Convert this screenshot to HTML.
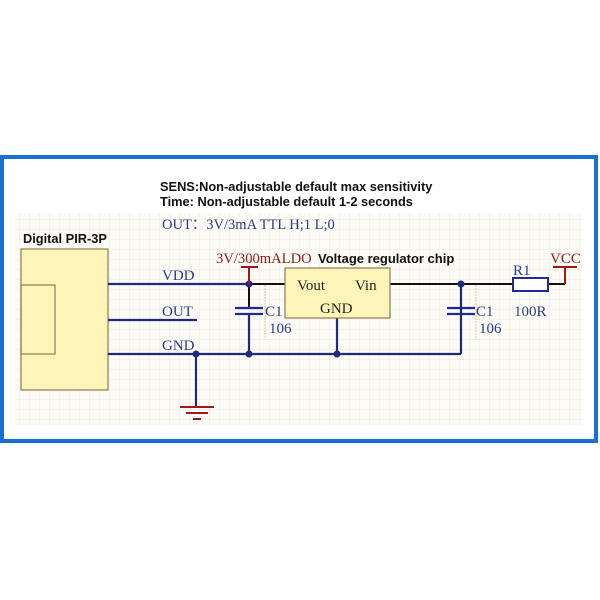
<!DOCTYPE html>
<html><head><meta charset="utf-8"><style>
html,body{margin:0;padding:0;background:#fff;width:600px;height:600px;overflow:hidden}
svg{display:block}
.s{font-family:"Liberation Serif",serif;fill:#2b3a8a;font-size:15px}
.b{font-family:"Liberation Sans",sans-serif;font-weight:bold;fill:#111;font-size:12.8px}
</style></head><body>
<svg width="600" height="600" viewBox="0 0 600 600">
<defs>
<pattern id="g" width="10" height="10" patternUnits="userSpaceOnUse">
<path d="M10 0V10H0" fill="none" stroke="#ece6da" stroke-width="0.8"/>
</pattern>
</defs>
<rect x="2" y="157" width="594" height="284" fill="#fff" stroke="#1a6fd0" stroke-width="4"/>
<rect x="15" y="213" width="567" height="212" fill="#fdfbf6"/>
<rect x="15" y="213" width="567" height="212" fill="url(#g)"/>
<text class="b" x="160" y="191">SENS:Non-adjustable default max sensitivity</text>
<text class="b" x="160" y="206">Time: Non-adjustable default 1-2 seconds</text>
<text class="s" x="162" y="229" style="font-size:14.5px">OUT：3V/3mA TTL H;1 L;0</text>
<text class="b" x="23" y="243">Digital PIR-3P</text>
<text class="s" x="216" y="263" style="fill:#8b1a1a;font-size:14.6px">3V/300mALDO</text>
<text class="b" x="318" y="263" style="font-size:13px">Voltage regulator chip</text>
<rect x="21" y="249" width="87" height="141" fill="#fdf5b8" stroke="#8a7d55" stroke-width="1.2"/>
<rect x="21" y="285" width="34" height="69" fill="none" stroke="#8a7d55" stroke-width="1.2"/>
<g stroke="#1f2a7a" stroke-width="2.2" fill="none">
<line x1="108" y1="284" x2="249" y2="284"/>
<line x1="108" y1="320" x2="197" y2="320"/>
<line x1="108" y1="354" x2="461" y2="354"/>
<line x1="196" y1="354" x2="196" y2="407"/>
<line x1="461" y1="284" x2="461" y2="354"/>
<line x1="337" y1="318" x2="337" y2="354"/>
<line x1="249" y1="314" x2="249" y2="354"/>
</g>
<g stroke="#111" stroke-width="2" fill="none">
<line x1="249" y1="284" x2="285" y2="284"/>
<line x1="249" y1="284" x2="249" y2="308"/>
<line x1="390" y1="284" x2="513" y2="284"/>
<line x1="548" y1="284" x2="565" y2="284"/>
</g>
<g stroke="#1f2a9a" stroke-width="2.2">
<line x1="235" y1="308" x2="263" y2="308"/><line x1="235" y1="314" x2="263" y2="314"/>
<line x1="447" y1="308" x2="475" y2="308"/><line x1="447" y1="314" x2="475" y2="314"/>
</g>
<line x1="265" y1="285" x2="265" y2="340" stroke="#d8c9a8" stroke-dasharray="2 1"/>
<line x1="476" y1="285" x2="476" y2="340" stroke="#d8c9a8" stroke-dasharray="2 1"/>
<g fill="#1f2a7a">
<circle cx="249" cy="284" r="3.5"/><circle cx="249" cy="354" r="3.5"/>
<circle cx="196" cy="354" r="3.5"/><circle cx="337" cy="354" r="3.5"/>
<circle cx="461" cy="284" r="3.5"/>
</g>
<g stroke="#a01818" stroke-width="2">
<line x1="241" y1="267" x2="258" y2="267"/><line x1="249" y1="267" x2="249" y2="284"/>
<line x1="553" y1="267" x2="577" y2="267"/><line x1="565" y1="267" x2="565" y2="284"/>
<line x1="180" y1="407" x2="214" y2="407"/>
<line x1="186" y1="413" x2="208" y2="413"/>
<line x1="193" y1="419" x2="201" y2="419"/>
</g>
<rect x="285" y="268" width="105" height="50" fill="#fdf5b8" stroke="#8a7d55" stroke-width="1.2"/>
<text class="s" x="297" y="290" style="fill:#222">Vout</text>
<text class="s" x="355" y="290" style="fill:#222">Vin</text>
<text class="s" x="320" y="313" style="fill:#222">GND</text>
<rect x="513" y="278" width="35" height="13" fill="#fff" stroke="#1f2a9a" stroke-width="2"/>
<text class="s" x="162" y="280">VDD</text>
<text class="s" x="162" y="316">OUT</text>
<text class="s" x="162" y="350">GND</text>
<text class="s" x="265" y="316">C1</text>
<text class="s" x="269" y="333">106</text>
<text class="s" x="476" y="316">C1</text>
<text class="s" x="479" y="333">106</text>
<text class="s" x="513" y="275">R1</text>
<text class="s" x="514" y="316">100R</text>
<text class="s" x="550" y="263" style="fill:#8b1a1a">VCC</text>
</svg>
</body></html>
